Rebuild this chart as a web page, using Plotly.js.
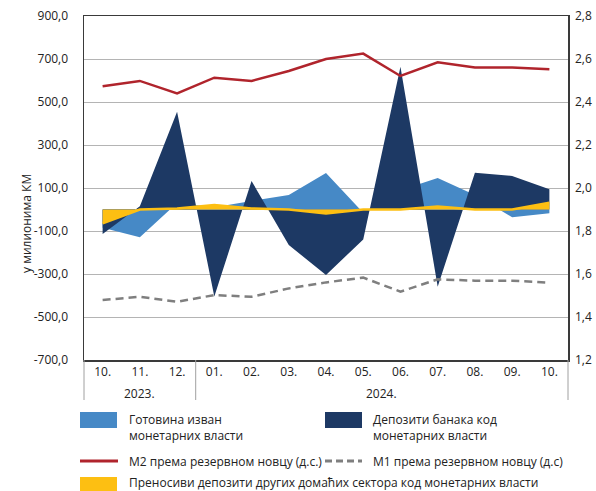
<!DOCTYPE html>
<html>
<head>
<meta charset="utf-8">
<script src="https://cdn.plot.ly/plotly-3.0.1.min.js"></script>
<style>html,body{margin:0;padding:0;background:#fff;}#chart{width:596px;height:491px;}</style>
</head>
<body>
<div id="chart"></div>
<script>
// Data
var months = ["10.", "11.", "12.", "01.", "02.", "03.", "04.", "05.", "06.", "07.", "08.", "09.", "10."];
var years = ["2023.", "2024."];
var cashOutside = [-85, -129, 30, 10, 40, 67, 170, -15, 90, 147, 68, -36, -18];
var bankDeposits = [-114, 15, 455, -405, 133, -165, -305, -139, 664, -359, 171, 156, 94];
var transferableDeposits = [-64, 0, 5, 21, 5, 0, -18, 0, 0, 14, 0, 0, 31];
var m2Ratio = [2.473, 2.498, 2.44, 2.513, 2.498, 2.544, 2.6, 2.625, 2.521, 2.585, 2.56, 2.56, 2.552];
var m1Ratio = [1.479, 1.494, 1.471, 1.502, 1.494, 1.533, 1.561, 1.583, 1.518, 1.575, 1.569, 1.569, 1.56];
var leftTicks = [900, 700, 500, 300, 100, -100, -300, -500, -700];
var leftTickText = ["900,0", "700,0", "500,0", "300,0", "100,0", "-100,0", "-300,0", "-500,0", "-700,0"];
var rightTicks = [2.8, 2.6, 2.4, 2.2, 2.0, 1.8, 1.6, 1.4, 1.2];
var rightTickText = ["2,8", "2,6", "2,4", "2,2", "2,0", "1,8", "1,6", "1,4", "1,2"];
var yTitle = "у милионима КМ";
var legendLabels = ["Готовина изван<br>монетарних власти", "Депозити банака код<br>монетарних власти",
  "М2 према резервном новцу (д.с.)", "М1 према резервном новцу (д.с)",
  "Преносиви депозити других домаћих сектора код монетарних власти"];

var xs = months.map(function (m, i) { return i; });
var C_LIGHT = "#4689c6", C_DARK = "#1d3964", C_RED = "#b0242c", C_GRAY = "#7f7f7f", C_YEL = "#fdbf12";
var FONT = "Open Sans, sans-serif";

var traces = [
  {x: xs, y: cashOutside, type: "scatter", mode: "none", fill: "tozeroy", fillcolor: C_LIGHT, hoverinfo: "skip"},
  {x: xs, y: bankDeposits, type: "scatter", mode: "none", fill: "tozeroy", fillcolor: C_DARK, hoverinfo: "skip"},
  {x: xs, y: transferableDeposits, type: "scatter", mode: "lines", fill: "tozeroy", fillcolor: C_YEL,
   line: {color: C_YEL, width: 2.5}, hoverinfo: "skip"},
  {x: xs, y: m2Ratio, type: "scatter", mode: "lines", yaxis: "y2", line: {color: C_RED, width: 2.5}},
  {x: xs, y: m1Ratio, type: "scatter", mode: "lines", yaxis: "y2", line: {color: C_GRAY, width: 2.5, dash: "8px,5px"}}
];

// pixel helpers for elements outside the plot area
var L = 84, R = 568, T = 16, B = 360;
function px(x) { return (x - L) / (R - L); }
function py(y) { return (B - y) / (B - T); }

var shapes = [
  {type: "line", xref: "paper", yref: "paper", x0: px(84), x1: px(84), y0: py(360), y1: py(400), line: {color: "#a0a0a0", width: 1}},
  {type: "line", xref: "x", yref: "paper", x0: 2.5, x1: 2.5, y0: py(360), y1: py(400), line: {color: "#a0a0a0", width: 1}},
  {type: "line", xref: "paper", yref: "paper", x0: px(568), x1: px(568), y0: py(360), y1: py(400), line: {color: "#a0a0a0", width: 1}},
  // legend markers
  {type: "rect", xref: "paper", yref: "paper", x0: px(80), x1: px(117), y0: py(412), y1: py(428), fillcolor: C_LIGHT, line: {width: 0}},
  {type: "rect", xref: "paper", yref: "paper", x0: px(325), x1: px(362), y0: py(412), y1: py(428), fillcolor: C_DARK, line: {width: 0}},
  {type: "line", xref: "paper", yref: "paper", x0: px(80), x1: px(118), y0: py(461), y1: py(461), line: {color: C_RED, width: 3}},
  {type: "line", xref: "paper", yref: "paper", x0: px(325), x1: px(362), y0: py(461), y1: py(461), line: {color: C_GRAY, width: 3, dash: "7px,4px"}},
  {type: "rect", xref: "paper", yref: "paper", x0: px(80), x1: px(117), y0: py(477), y1: py(492), fillcolor: C_YEL, line: {width: 0}}
];

var annFont = {family: FONT, size: 12, color: "#222"};
var annotations = [
  {xref: "paper", yref: "paper", x: px(26), y: py(224), text: yTitle, textangle: -90, showarrow: false, font: annFont, xanchor: "center", yanchor: "middle"},
  {xref: "x", yref: "paper", x: 1, y: py(393), text: years[0], showarrow: false, font: annFont, xanchor: "center", yanchor: "middle"},
  {xref: "x", yref: "paper", x: 7.5, y: py(393), text: years[1], showarrow: false, font: annFont, xanchor: "center", yanchor: "middle"},
  {xref: "paper", yref: "paper", x: px(127), y: py(428), text: legendLabels[0], showarrow: false, font: annFont, xanchor: "left", yanchor: "middle", align: "left"},
  {xref: "paper", yref: "paper", x: px(371), y: py(428), text: legendLabels[1], showarrow: false, font: annFont, xanchor: "left", yanchor: "middle", align: "left"},
  {xref: "paper", yref: "paper", x: px(127), y: py(461), text: legendLabels[2], showarrow: false, font: annFont, xanchor: "left", yanchor: "middle", align: "left"},
  {xref: "paper", yref: "paper", x: px(371), y: py(461), text: legendLabels[3], showarrow: false, font: annFont, xanchor: "left", yanchor: "middle", align: "left"},
  {xref: "paper", yref: "paper", x: px(127), y: py(482), text: legendLabels[4], showarrow: false, font: annFont, xanchor: "left", yanchor: "middle", align: "left"}
];

var layout = {
  width: 596, height: 491,
  margin: {l: 84, r: 28, t: 16, b: 131, pad: 0},
  paper_bgcolor: "#fff", plot_bgcolor: "#fff",
  showlegend: false,
  font: {family: FONT, size: 12, color: "#222"},
  xaxis: {
    range: [-0.5, 12.5], tickvals: xs, ticktext: months, showgrid: false, zeroline: false,
    showline: true, mirror: true, linecolor: "#3a3a3a", linewidth: 1.5, ticks: "",
    tickfont: {family: FONT, size: 12, color: "#222"}, fixedrange: true
  },
  yaxis: {
    range: [-700, 900], tickvals: leftTicks, ticktext: leftTickText, showgrid: true, gridcolor: "#b4b4b4", gridwidth: 1,
    zeroline: false, showline: true, mirror: true, linecolor: "#3a3a3a", linewidth: 1.5, ticks: "",
    ticklabelstandoff: 12, tickfont: {family: FONT, size: 12, color: "#222"}
  },
  yaxis2: {
    range: [1.2, 2.8], tickvals: rightTicks, ticktext: rightTickText, overlaying: "y", side: "right",
    showgrid: false, zeroline: false, showline: false, ticks: "", ticklabelstandoff: 6,
    tickfont: {family: FONT, size: 12, color: "#222"}
  },
  shapes: shapes,
  annotations: annotations
};

Plotly.newPlot("chart", traces, layout, {staticPlot: true, displayModeBar: false});
</script>
</body>
</html>
